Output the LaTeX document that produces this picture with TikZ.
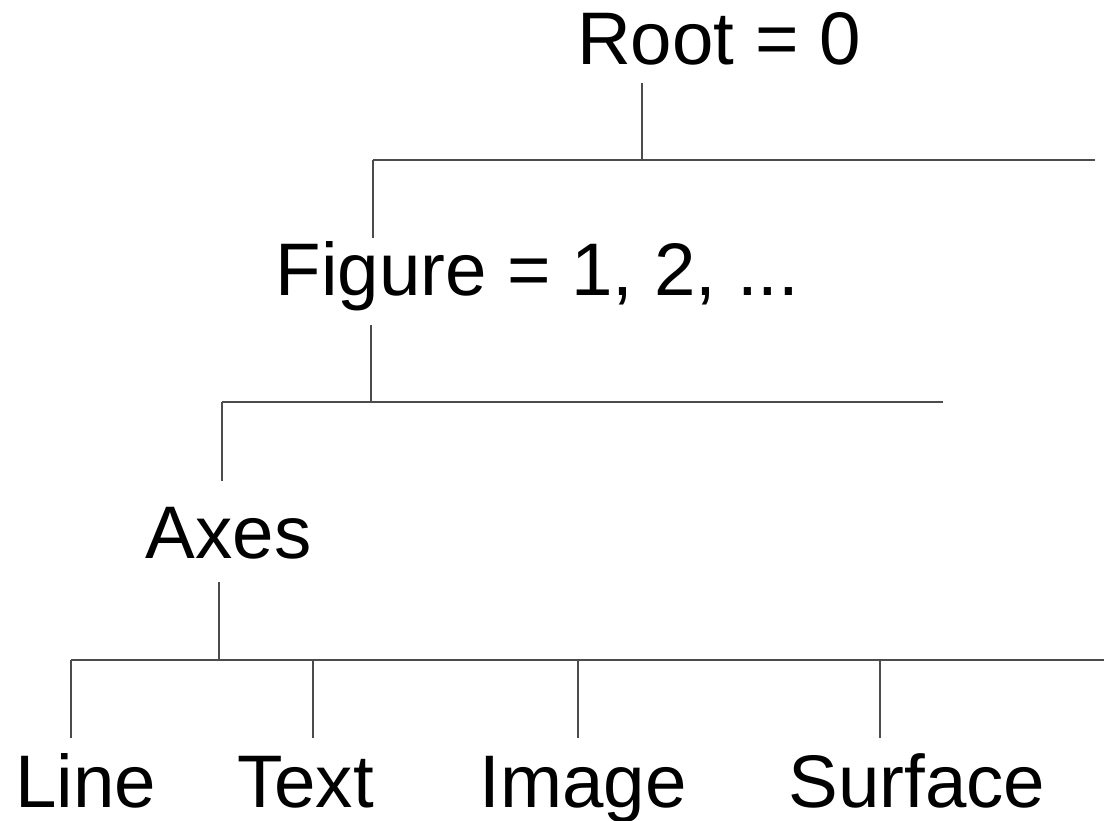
\documentclass[tikz,border=0pt]{standalone}
\usepackage{fontspec}
\setmainfont{Liberation Sans}
\begin{document}
\begin{tikzpicture}[x=1pt,y=-1pt,
  lbl/.style={inner sep=0pt,anchor=base,font=\fontsize{74.5}{80}\selectfont},
  conn/.style={draw=black!70,line width=1.1pt}]
\useasboundingbox (0,0) rectangle (1104,821);
% labels
\node[lbl] (root) at (719,65) {Root = 0};
\node[lbl] (fig) at (537.5,296) {Figure = 1, 2, ...};
\node[lbl] (axes) at (228.5,558) {Axes};
\node[lbl] (line) at (86,807) {Line};
\node[lbl] (text) at (305.5,807) {Text};
\node[lbl] (image) at (583,807) {Image};
\node[lbl] (surf) at (917,807) {Surface};
% junction coordinates
\coordinate (r1) at (642,83);
\coordinate (r2) at (642,160);
\coordinate (h1l) at (373,160);
\coordinate (h1r) at (1095,160);
\coordinate (f0) at (373,238);
\coordinate (f1) at (371,325);
\coordinate (f2) at (371,402);
\coordinate (h2l) at (222,402);
\coordinate (h2r) at (943,402);
\coordinate (a0) at (222,481);
\coordinate (a1) at (219,582);
\coordinate (a2) at (219,660);
\coordinate (h3l) at (71,660);
\coordinate (h3r) at (1104,660);
\coordinate (c1t) at (71,660);   \coordinate (c1b) at (71,738);
\coordinate (c2t) at (313,660);  \coordinate (c2b) at (313,738);
\coordinate (c3t) at (578,660);  \coordinate (c3b) at (578,738);
\coordinate (c4t) at (880,660);  \coordinate (c4b) at (880,738);
% connectors
\draw[conn] (r1) -- (r2);
\draw[conn] (h1l) -- (h1r);
\draw[conn] (h1l) -- (f0);
\draw[conn] (f1) -- (f2);
\draw[conn] (h2l) -- (h2r);
\draw[conn] (h2l) -- (a0);
\draw[conn] (a1) -- (a2);
\draw[conn] (h3l) -- (h3r);
\draw[conn] (c1t) -- (c1b);
\draw[conn] (c2t) -- (c2b);
\draw[conn] (c3t) -- (c3b);
\draw[conn] (c4t) -- (c4b);
\end{tikzpicture}
\end{document}
